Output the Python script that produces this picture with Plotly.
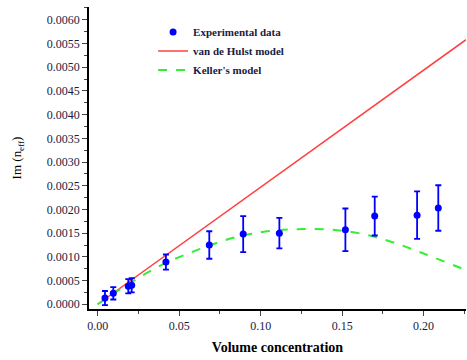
import plotly.graph_objects as go

# Experimental data
exp_x = [0.0045, 0.0096, 0.0188, 0.0209, 0.0419, 0.0685, 0.0893, 0.1115, 0.152, 0.170, 0.196, 0.209]
exp_y = [0.00013, 0.00023, 0.00038, 0.00040, 0.00089, 0.00125, 0.00148, 0.00150, 0.00157, 0.00186, 0.00188, 0.00203]
exp_err = [0.00015, 0.00013, 0.00015, 0.00015, 0.00016, 0.00029, 0.00038, 0.00032, 0.00045, 0.00041, 0.00050, 0.00048]

# van de Hulst model (straight line)
hulst_x = [0.0, 0.226]
hulst_y = [0.0, 0.00558]

# Keller's model
keller_x = [0.0, 0.02, 0.04, 0.06, 0.08, 0.10, 0.12, 0.14, 0.16, 0.18, 0.20, 0.226]
keller_y = [0.0, 0.00045, 0.00084, 0.00113, 0.00137, 0.00152, 0.00158, 0.00158, 0.00150, 0.00132, 0.00107, 0.00072]

FONT = "Liberation Serif"

fig = go.Figure()
fig.add_trace(go.Scatter(
    x=hulst_x, y=hulst_y, mode="lines", name="<b>van de Hulst model</b>", legendrank=2,
    line=dict(color="#ff4040", width=1.5)))
fig.add_trace(go.Scatter(
    x=keller_x, y=keller_y, mode="lines", name="<b>Keller's model</b>", legendrank=3,
    line=dict(color="#33ee33", width=2, dash="dash", shape="spline")))
fig.add_trace(go.Scatter(
    x=exp_x, y=exp_y, mode="markers", name="<b>Experimental data</b>", legendrank=1,
    marker=dict(color="#0000ff", size=7),
    error_y=dict(type="data", array=exp_err, color="#0000ff", thickness=1.8, width=3)))

fig.update_layout(
    width=467, height=360,
    margin=dict(l=89, r=1, t=7, b=51, autoexpand=False),
    paper_bgcolor="white", plot_bgcolor="white",
    font=dict(family=FONT, size=12, color="black"),
    showlegend=True,
    legend=dict(x=0.17, y=0.965, xanchor="left", yanchor="top",
                bgcolor="rgba(0,0,0,0)", font=dict(family=FONT, size=11, color="#1a1a40"),
                tracegroupgap=0, itemwidth=30),
)
fig.update_xaxes(
    range=[-0.0053, 0.226], tickvals=[0, 0.05, 0.10, 0.15, 0.20], tickformat=".2f",
    ticks="outside", ticklen=5, tickwidth=1.2, showline=True, linecolor="black", linewidth=1.5,
    showgrid=False, zeroline=False, automargin=False,
    minor=dict(tickvals=[0.025, 0.075, 0.125, 0.175, 0.225], ticks="outside", ticklen=3, tickwidth=1.2),
    title=dict(text="<b>Volume concentration</b>", font=dict(family=FONT, size=14), standoff=10),
    tickfont=dict(family=FONT, size=12, color="#1a1a40"))
fig.update_yaxes(
    range=[-0.0001, 0.00627], dtick=0.0005, tick0=0, tickformat=".4f",
    ticks="outside", ticklen=5, tickwidth=1.2, showline=True, linecolor="black", linewidth=1.5,
    showgrid=False, zeroline=False, automargin=False,
    minor=dict(dtick=0.00025, ticks="outside", ticklen=3, tickwidth=1.2),
    title=dict(text="Im (n<sub>eff</sub>)", font=dict(family=FONT, size=13), standoff=22),
    tickfont=dict(family=FONT, size=12, color="#1a1a40"))

fig.write_html("out.html", config={"displayModeBar": False},
               post_script="document.body.style.margin='0';")
